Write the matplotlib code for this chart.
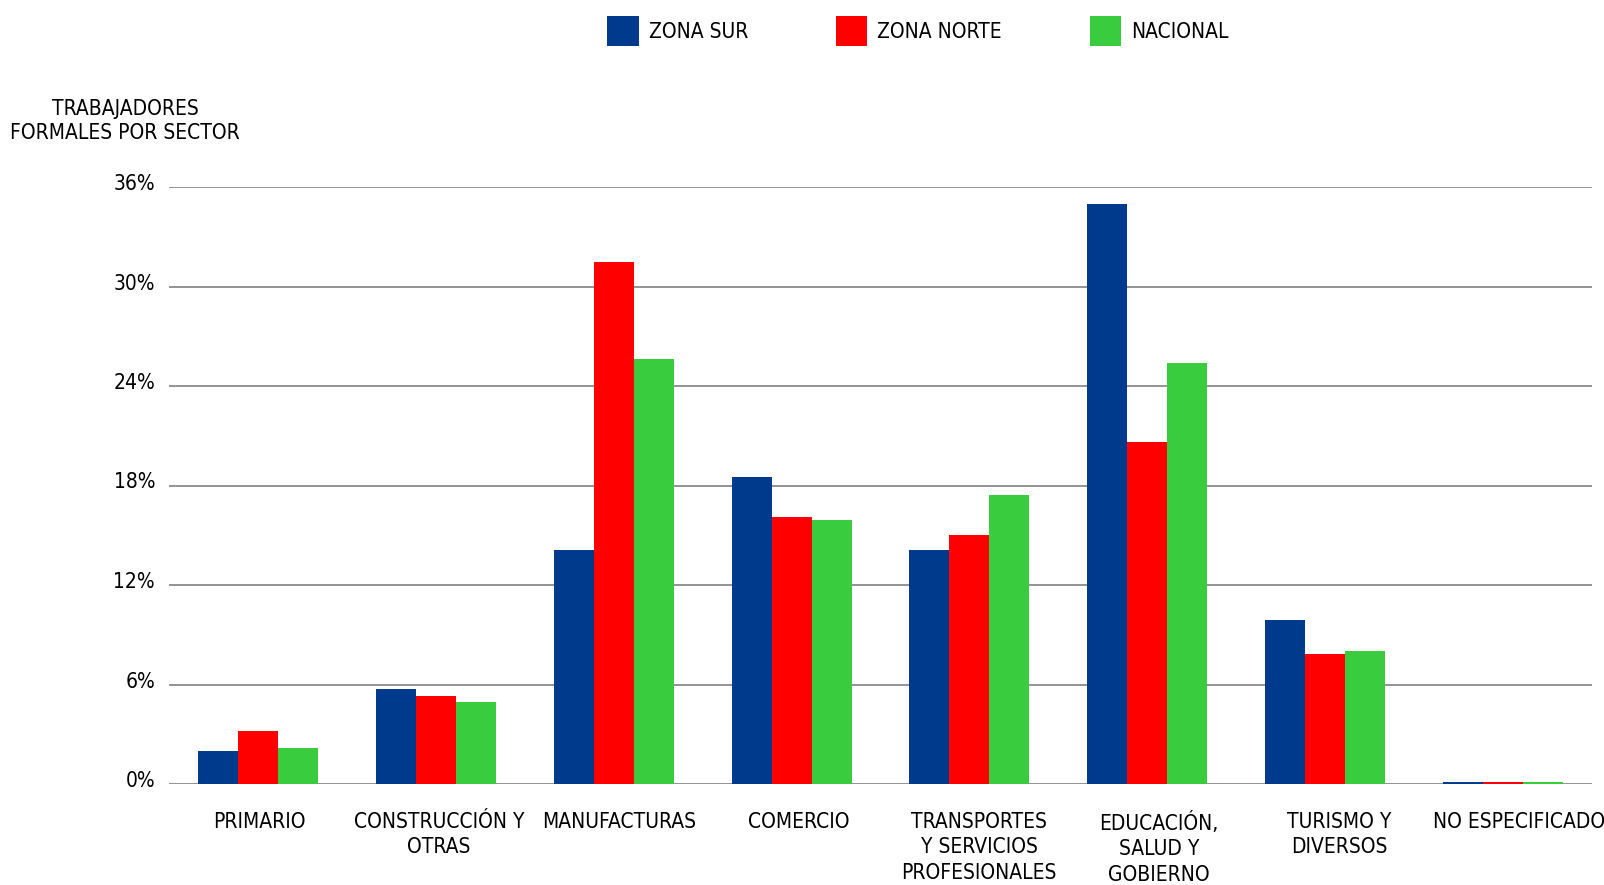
import numpy as np
import matplotlib
matplotlib.use("Agg")
import matplotlib.pyplot as plt
import matplotlib.transforms as mtransforms
from matplotlib.patches import Patch

plt.rcParams['font.family'] = ['DejaVu Sans']
plt.rcParams['font.stretch'] = 'condensed'

# Data
sectores = ["PRIMARIO", "CONSTRUCCIÓN Y\nOTRAS", "MANUFACTURAS", "COMERCIO",
            "TRANSPORTES\nY SERVICIOS\nPROFESIONALES", "EDUCACIÓN,\nSALUD Y\nGOBIERNO",
            "TURISMO Y\nDIVERSOS", "NO ESPECIFICADO"]
zona_sur = [2.0, 5.7, 14.1, 18.5, 14.1, 35.0, 9.9, 0.15]
zona_norte = [3.2, 5.3, 31.5, 16.1, 15.0, 20.6, 7.85, 0.15]
nacional = [2.15, 4.95, 25.6, 15.9, 17.4, 25.4, 8.0, 0.15]
series_names = ["ZONA SUR", "ZONA NORTE", "NACIONAL"]
yticks = [0, 6, 12, 18, 24, 30, 36]

colors = ["#003A8C", "#FF0000", "#3ACC3F"]

fig = plt.figure(figsize=(16.04, 8.85), dpi=100)
ax = fig.add_axes([169 / 1604, 1 - 784 / 885, 1423 / 1604, 597 / 885])

x = np.arange(len(sectores))
w = 0.225
for i, (vals, c, name) in enumerate(zip([zona_sur, zona_norte, nacional], colors, series_names)):
    ax.bar(x + (i - 1) * w, vals, width=w, color=c, label=name, zorder=3)

ax.set_xlim(-0.5, len(sectores) - 0.5)
ax.set_ylim(0, 36)
ax.set_yticks(yticks)
ax.set_yticklabels([f"{t}%" for t in yticks], fontsize=15)
ax.yaxis.grid(True, color="#808080", linewidth=1.2, zorder=0)
ax.tick_params(axis="y", length=0, pad=10)
ax.tick_params(axis="x", length=0, pad=20)
# category labels in the original drift slightly right of their bar groups
ax.set_xticks(x * 1.012 + 0.006)
ax.set_xticklabels(sectores, fontsize=15, linespacing=1.35, va="top")
# tick labels sit slightly above their gridline
shift = mtransforms.ScaledTranslation(0, 5 / 100, fig.dpi_scale_trans)
for lab in ax.get_yticklabels():
    lab.set_transform(lab.get_transform() + shift)
for s in ax.spines.values():
    s.set_visible(False)

fig.text(125 / 1604, 1 - 121 / 885, "TRABAJADORES\nFORMALES POR SECTOR", ha="center", va="center",
         fontsize=15, linespacing=1.3)

handles = [Patch(facecolor=c, edgecolor="none") for c in colors]
fig.legend(handles, series_names, loc="center", bbox_to_anchor=(918 / 1604, 1 - 31 / 885), ncol=3,
           frameon=False, fontsize=15, handlelength=1.5, handleheight=1.8, handletextpad=0.5,
           columnspacing=4.2)

fig.savefig("out.png", dpi=100, facecolor="white")
